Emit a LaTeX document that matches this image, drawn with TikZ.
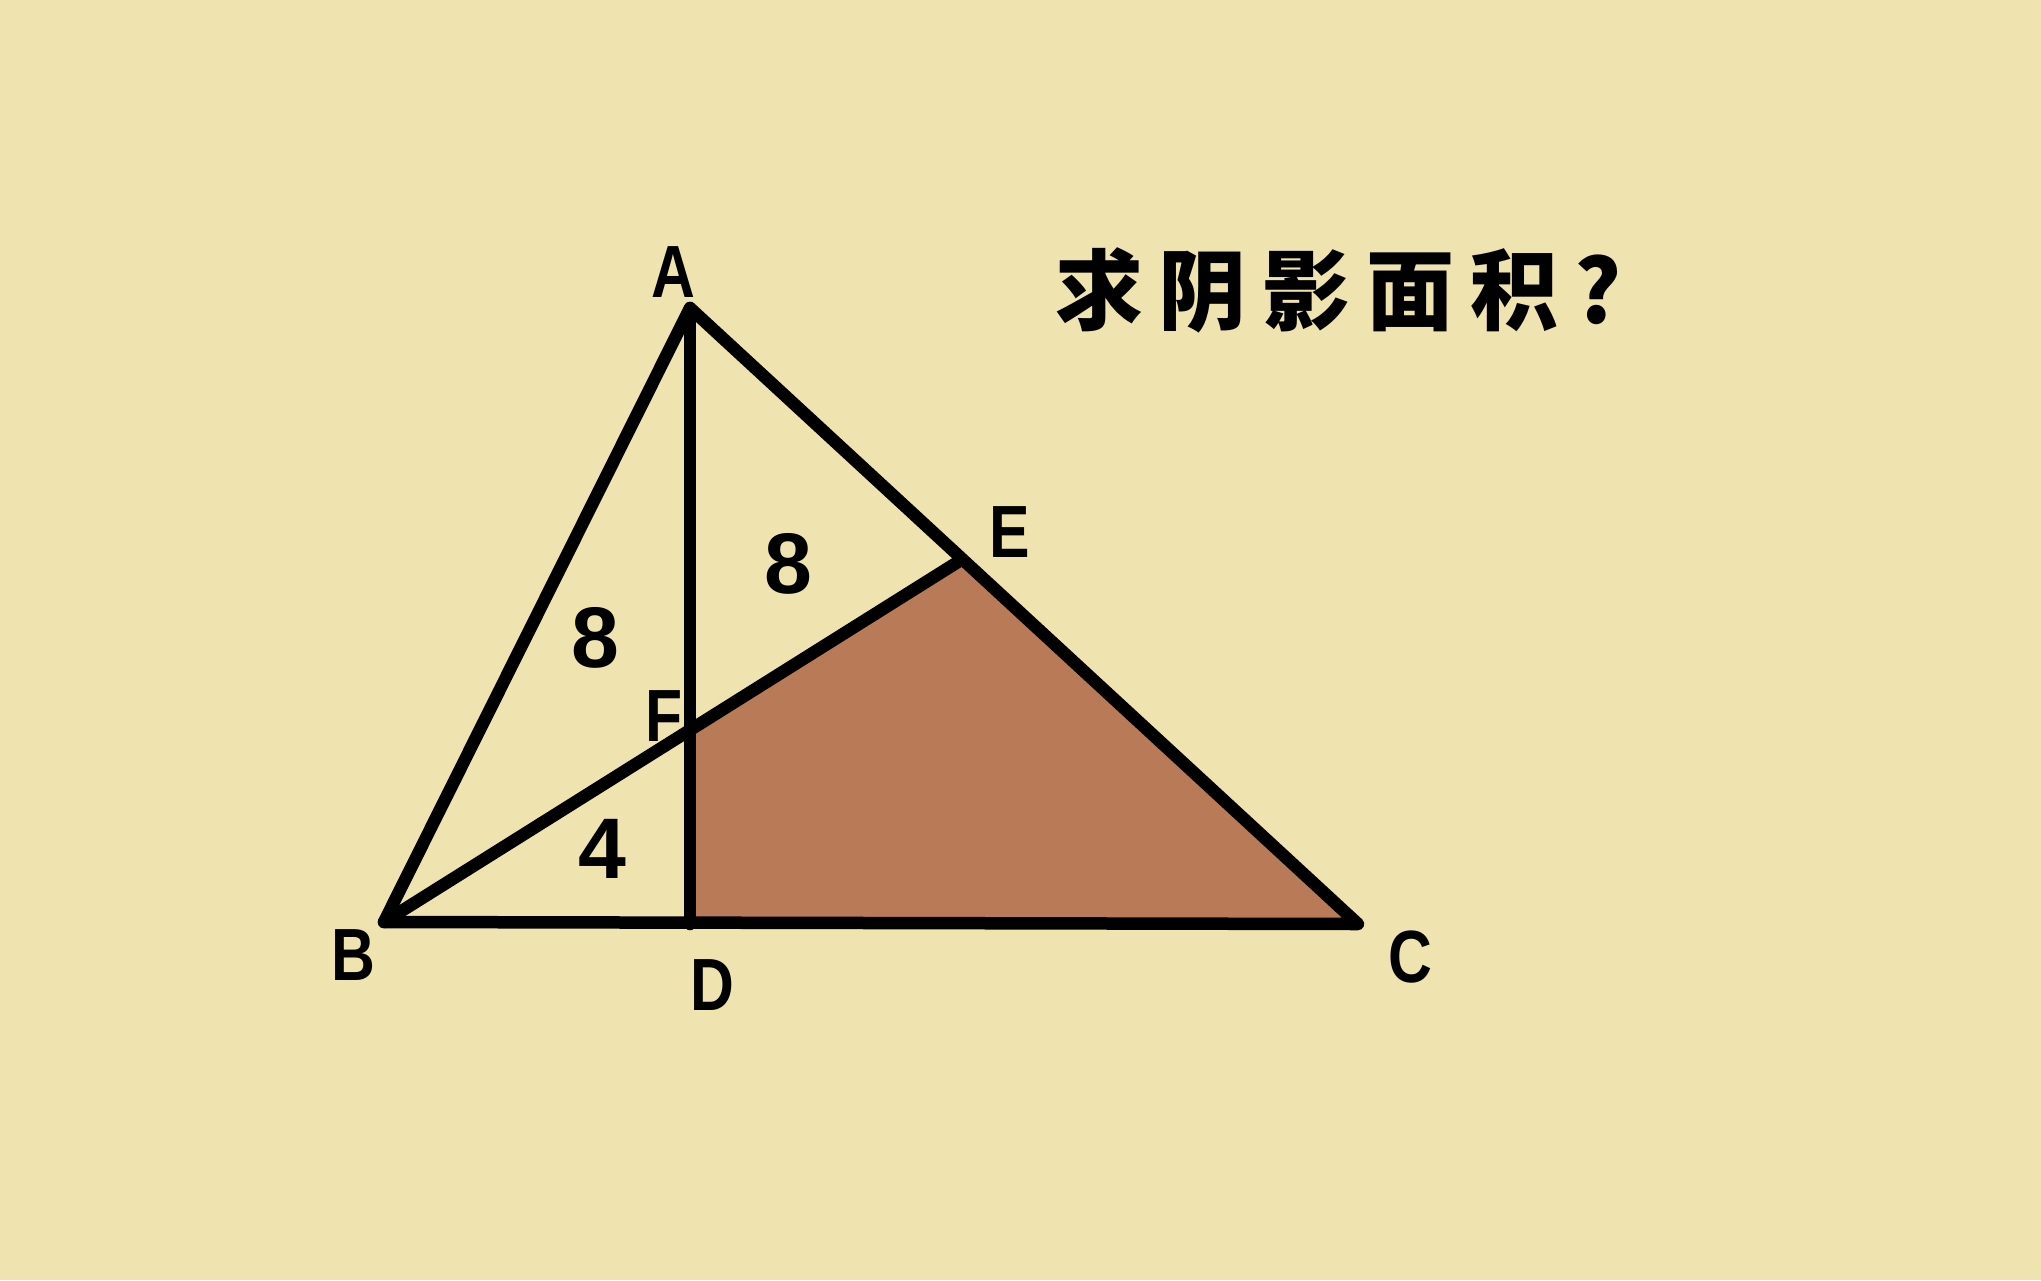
\documentclass[tikz,border=0pt]{standalone}
\usepackage{fontspec}
\setmainfont{Liberation Sans}
\newfontfamily\labfont{Liberation Sans}[FakeStretch=0.82]
\newfontfamily\cjk{Noto Sans CJK SC}
\definecolor{bgyellow}{RGB}{239,228,176}
\definecolor{brownfill}{RGB}{185,122,87}
\tikzset{
  edge/.style={line width=12.5pt, line join=round, line cap=round},
  vlabel/.style={inner sep=0pt, font=\labfont\bfseries\fontsize{74}{74}\selectfont},
  area/.style={inner sep=0pt, font=\bfseries\fontsize{86}{86}\selectfont},
  title/.style={inner sep=0pt, anchor=west, font=\cjk\bfseries\fontsize{88}{88}\selectfont\addfontfeature{LetterSpace=18}}
}
\begin{document}
\begin{tikzpicture}[x=1pt,y=-1pt]
\fill[bgyellow] (0,0) rectangle (2041,1280);
\useasboundingbox (0,0) rectangle (2041,1280);
\coordinate (A) at (690,308);
\coordinate (B) at (384,922);
\coordinate (C) at (1358,924);
\coordinate (D) at (690,924);
\coordinate (E) at (961,560);
\coordinate (F) at (690,729);
\fill[brownfill] (F) -- (E) -- (C) -- (D) -- cycle;
\draw[edge] (A) -- (B) -- (C) -- cycle;
\draw[edge] (A) -- (D);
\draw[edge] (B) -- (E);
\node[vlabel] (lA) at (673,272) {A};
\node[vlabel] (lB) at (353,955) {B};
\node[vlabel] (lC) at (1410,957) {C};
\node[vlabel] (lD) at (712,985) {D};
\node[vlabel] (lE) at (1010,532) {E};
\node[vlabel] (lF) at (664,716) {F};
\node[area] (n1) at (595,638) {8};
\node[area] (n2) at (788,564) {8};
\node[area] (n3) at (602,849) {4};
\node[title] (t) at (1055,290) {求阴影面积?};
\end{tikzpicture}
\end{document}
